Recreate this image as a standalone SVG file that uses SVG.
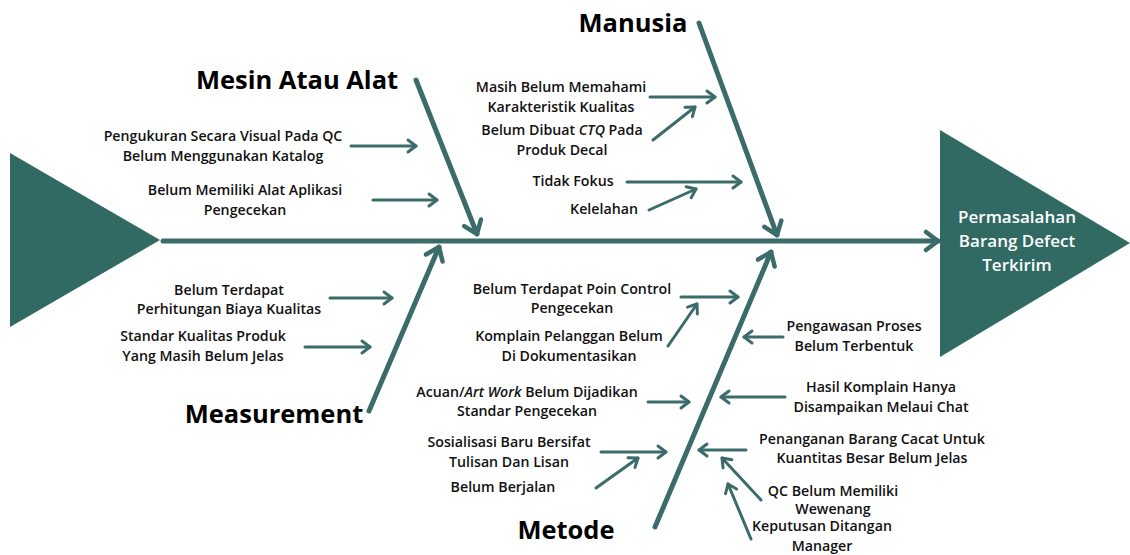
<svg xmlns="http://www.w3.org/2000/svg" width="1130" height="555" viewBox="0 0 1130 555">
<defs>
<style>
.t{font-family:"Open Sans","Liberation Sans",sans-serif;font-weight:600;font-size:14.2px;fill:#111;text-anchor:middle}
.h{font-family:"Open Sans","Liberation Sans",sans-serif;font-weight:700;font-size:25.5px;fill:#000;text-anchor:middle}
.w{font-family:"Open Sans","Liberation Sans",sans-serif;font-weight:600;font-size:17px;fill:#fff;text-anchor:middle}
.tri{fill:#306a62}
.bone{stroke:#3b6c6a;stroke-width:5;fill:none;stroke-linecap:round}
.sm{stroke:#3b6c6a;stroke-width:3;fill:none;stroke-linecap:round}
</style>
<marker id="ab" markerUnits="userSpaceOnUse" viewBox="-16 -12 20 24" markerWidth="20" markerHeight="24" refX="0" refY="0" orient="auto">
<path d="M-12,-9 L0,0 L-12,9" fill="none" stroke="#3b6c6a" stroke-width="4.5" stroke-linecap="round" stroke-linejoin="round"/>
</marker>
<marker id="as" markerUnits="userSpaceOnUse" viewBox="-12 -9 15 18" markerWidth="15" markerHeight="18" refX="0" refY="0" orient="auto">
<path d="M-8,-6 L0,0 L-8,6" fill="none" stroke="#3b6c6a" stroke-width="3" stroke-linecap="round" stroke-linejoin="round"/>
</marker>
</defs>
<rect width="1130" height="555" fill="#fff"/>

<g id="tail"><polygon class="tri" points="10,153 160,240 10,327"/></g>
<g id="head">
<polygon class="tri" points="940,130 1130,243 940,357"/>
<text class="w" x="1017" y="223">Permasalahan</text>
<text class="w" x="1017" y="247">Barang Defect</text>
<text class="w" x="1017" y="271">Terkirim</text>
</g>

<g id="connectors">
<line class="bone" x1="163" y1="241" x2="938" y2="241" marker-end="url(#ab)"/>
<line class="bone" x1="416" y1="80" x2="477" y2="234" marker-end="url(#ab)"/>
<line class="bone" x1="699" y1="23" x2="777" y2="235" marker-end="url(#ab)"/>
<line class="bone" x1="369" y1="411" x2="439" y2="247" marker-end="url(#ab)"/>
<line class="bone" x1="655" y1="527" x2="771" y2="252" marker-end="url(#ab)"/>

<line class="sm" x1="351" y1="146" x2="416" y2="146" marker-end="url(#as)"/>
<line class="sm" x1="373" y1="200" x2="437" y2="200" marker-end="url(#as)"/>
<line class="sm" x1="650" y1="97" x2="715" y2="97" marker-end="url(#as)"/>
<line class="sm" x1="653" y1="140" x2="695" y2="107" marker-end="url(#as)"/>
<line class="sm" x1="627" y1="182" x2="741" y2="182" marker-end="url(#as)"/>
<line class="sm" x1="649" y1="210" x2="696" y2="189" marker-end="url(#as)"/>
<line class="sm" x1="330" y1="298" x2="392" y2="298" marker-end="url(#as)"/>
<line class="sm" x1="305" y1="347" x2="370" y2="347" marker-end="url(#as)"/>
<line class="sm" x1="681" y1="297" x2="738" y2="297" marker-end="url(#as)"/>
<line class="sm" x1="668" y1="346" x2="697" y2="304" marker-end="url(#as)"/>
<line class="sm" x1="648" y1="402" x2="689" y2="402" marker-end="url(#as)"/>
<line class="sm" x1="601" y1="452" x2="666" y2="452" marker-end="url(#as)"/>
<line class="sm" x1="596" y1="488" x2="638" y2="458" marker-end="url(#as)"/>
<line class="sm" x1="783" y1="337" x2="744" y2="337" marker-end="url(#as)"/>
<line class="sm" x1="785" y1="397" x2="721" y2="397" marker-end="url(#as)"/>
<line class="sm" x1="746" y1="450" x2="699" y2="450" marker-end="url(#as)"/>
<line class="sm" x1="761" y1="500" x2="722" y2="458" marker-end="url(#as)"/>
<line class="sm" x1="751" y1="539" x2="728" y2="484" marker-end="url(#as)"/>
</g>

<g id="cat-mesin"><text class="h" x="297" y="89">Mesin Atau Alat</text></g>
<g id="cat-manusia"><text class="h" x="633" y="32">Manusia</text></g>
<g id="cat-measurement"><text class="h" x="274" y="423">Measurement</text></g>
<g id="cat-metode"><text class="h" x="566" y="539">Metode</text></g>

<g id="c1"><text class="t" x="223" y="141">Pengukuran Secara Visual Pada QC</text><text class="t" x="223" y="161">Belum Menggunakan Katalog</text></g>
<g id="c2"><text class="t" x="245" y="195">Belum Memiliki Alat Aplikasi</text><text class="t" x="245" y="215">Pengecekan</text></g>
<g id="c3"><text class="t" x="561" y="92">Masih Belum Memahami</text><text class="t" x="561" y="112">Karakteristik Kualitas</text></g>
<g id="c4"><text class="t" x="562" y="135">Belum Dibuat <tspan font-style="italic">CTQ</tspan> Pada</text><text class="t" x="562" y="155">Produk Decal</text></g>
<g id="c5"><text class="t" x="573" y="186">Tidak Fokus</text></g>
<g id="c6"><text class="t" x="604" y="214">Kelelahan</text></g>
<g id="c7"><text class="t" x="229" y="295">Belum Terdapat</text><text class="t" x="229" y="314">Perhitungan Biaya Kualitas</text></g>
<g id="c8"><text class="t" x="203" y="341">Standar Kualitas Produk</text><text class="t" x="203" y="361">Yang Masih Belum Jelas</text></g>
<g id="c9"><text class="t" x="572" y="294">Belum Terdapat Poin Control</text><text class="t" x="572" y="313">Pengecekan</text></g>
<g id="c10"><text class="t" x="569" y="341">Komplain Pelanggan Belum</text><text class="t" x="569" y="361">Di Dokumentasikan</text></g>
<g id="c11"><text class="t" x="527" y="397">Acuan/<tspan font-style="italic">Art Work</tspan> Belum Dijadikan</text><text class="t" x="527" y="416">Standar Pengecekan</text></g>
<g id="c12"><text class="t" x="509" y="447">Sosialisasi Baru Bersifat</text><text class="t" x="509" y="467">Tulisan Dan Lisan</text></g>
<g id="c13"><text class="t" x="503" y="492">Belum Berjalan</text></g>
<g id="c14"><text class="t" x="854" y="331">Pengawasan Proses</text><text class="t" x="854" y="351">Belum Terbentuk</text></g>
<g id="c15"><text class="t" x="881" y="392">Hasil Komplain Hanya</text><text class="t" x="881" y="412">Disampaikan Melaui Chat</text></g>
<g id="c16"><text class="t" x="872" y="444">Penanganan Barang Cacat Untuk</text><text class="t" x="872" y="463">Kuantitas Besar Belum Jelas</text></g>
<g id="c17"><text class="t" x="833" y="496">QC Belum Memiliki</text><text class="t" x="833" y="514">Wewenang</text></g>
<g id="c18"><text class="t" x="822" y="531">Keputusan Ditangan</text><text class="t" x="822" y="551">Manager</text></g>
</svg>
